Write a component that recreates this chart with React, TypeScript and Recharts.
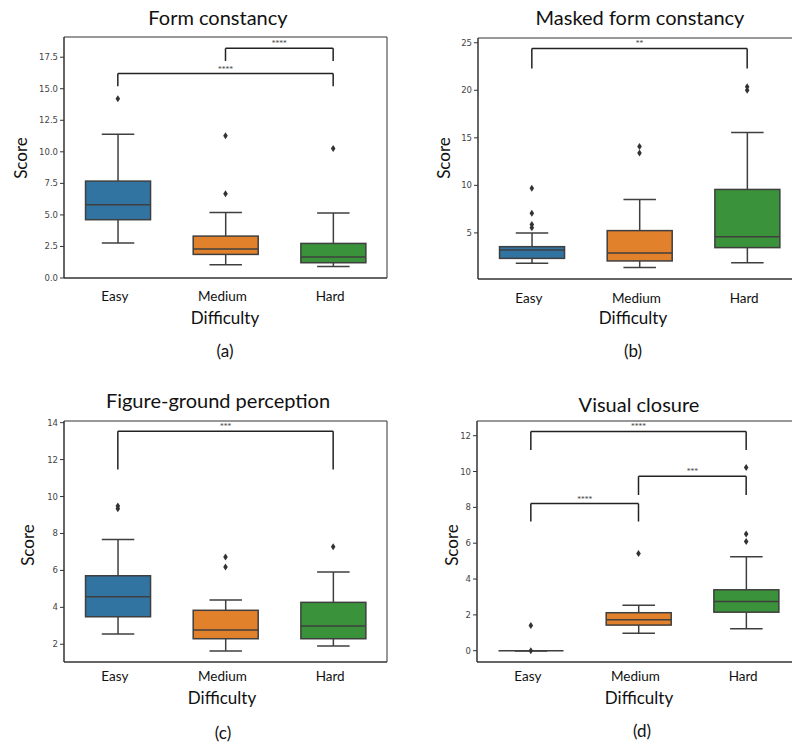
import React from 'react';
import { Bar, ComposedChart, ReferenceArea, ReferenceLine, Scatter, XAxis, YAxis } from 'recharts';

const categories = ['Easy', 'Medium', 'Hard'];

// five-number summaries per difficulty: [lower whisker, Q1, median, Q3, upper whisker]
const formBoxes = [
    [2.77, 4.62, 5.8, 7.68, 11.4],
    [1.05, 1.87, 2.3, 3.32, 5.2],
    [0.92, 1.21, 1.66, 2.74, 5.15],
];
const formOutliers = [[14.2], [11.27, 6.67], [10.26]];
const formTicks = [0, 2.5, 5, 7.5, 10, 12.5, 15, 17.5];
const formBrackets: [string, string, number, number, string][] = [
    ['Medium', 'Hard', 17.2, 18.2, '****'],
    ['Easy', 'Hard', 15.2, 16.2, '****'],
];

const maskedBoxes = [
    [1.8, 2.32, 3.2, 3.55, 5.0],
    [1.37, 2.05, 2.89, 5.24, 8.5],
    [1.87, 3.45, 4.6, 9.57, 15.55],
];
const maskedOutliers = [[9.7, 7.07, 5.88, 5.53], [14.1, 13.4], [20.36, 20.0]];
const maskedTicks = [5, 10, 15, 20, 25];
const maskedBrackets: [string, string, number, number, string][] = [['Easy', 'Hard', 22.3, 24.4, '**']];

const figureBoxes = [
    [2.56, 3.49, 4.58, 5.71, 7.68],
    [1.64, 2.3, 2.77, 3.84, 4.4],
    [1.91, 2.3, 2.99, 4.27, 5.91],
];
const figureOutliers = [[9.49, 9.34], [6.72, 6.18], [7.28]];
const figureTicks = [2, 4, 6, 8, 10, 12, 14];
const figureBrackets: [string, string, number, number, string][] = [['Easy', 'Hard', 11.47, 13.53, '***']];

const closureBoxes = [
    [0, 0, 0, 0, 0],
    [0.98, 1.43, 1.73, 2.12, 2.54],
    [1.23, 2.15, 2.75, 3.4, 5.24],
];
const closureOutliers = [[1.41, 0], [5.42], [10.22, 6.52, 6.09]];
const closureTicks = [0, 2, 4, 6, 8, 10, 12];
const closureBrackets: [string, string, number, number, string][] = [
    ['Easy', 'Hard', 11.2, 12.24, '****'],
    ['Medium', 'Hard', 8.69, 9.73, '***'],
    ['Easy', 'Medium', 7.21, 8.21, '****'],
];

const boxColors = ['#3274a1', '#e1812c', '#3a923a'];
const lineColor = '#3f3f3f';
const FONT = 'Lato, "Open Sans", sans-serif';
const PLOT_W = 323;
const PLOT_H = 241;

function BoxShape(props: any) {
    const { x, y, width, height, payload, index } = props;
    const [lo, q1, med, q3, hi] = payload.stats as number[];
    const top = Math.min(y, y + height);
    const h = Math.abs(height);
    const span = hi - lo;
    const toY = (v: number) => (span === 0 ? top : top + ((hi - v) / span) * h);
    const cx = x + width / 2;
    const capW = width / 4;
    return (
        <g stroke={lineColor} strokeWidth={1.5}>
            <line x1={cx} x2={cx} y1={toY(hi)} y2={toY(q3)} />
            <line x1={cx} x2={cx} y1={toY(q1)} y2={toY(lo)} />
            <line x1={cx - capW} x2={cx + capW} y1={toY(hi)} y2={toY(hi)} />
            <line x1={cx - capW} x2={cx + capW} y1={toY(lo)} y2={toY(lo)} />
            <rect x={x} y={toY(q3)} width={width} height={toY(q1) - toY(q3)} fill={boxColors[index]} />
            <line x1={x} x2={x + width} y1={toY(med)} y2={toY(med)} />
        </g>
    );
}

function Diamond(props: any) {
    const { cx, cy } = props;
    return <path d={`M${cx},${cy - 3.5}L${cx + 2.3},${cy}L${cx},${cy + 3.5}L${cx - 2.3},${cy}Z`} fill="#333" />;
}

function Text({ x, y, size, children, rotate }: { x: number; y: number; size: number; children: React.ReactNode; rotate?: boolean }) {
    return (
        <div
            style={{
                position: 'absolute',
                left: x,
                top: y,
                transform: `translate(-50%, -50%)${rotate ? ' rotate(-90deg)' : ''}`,
                fontSize: size,
                fontFamily: FONT,
                color: '#111',
                whiteSpace: 'nowrap',
                lineHeight: 1,
            }}
        >
            {children}
        </div>
    );
}

type PanelProps = {
    left: number;
    top: number;
    plotLeft: number;
    plotTop: number;
    boxes: number[][];
    outliers: number[][];
    ticks: number[];
    domain: [number, number];
    brackets: [string, string, number, number, string][];
    tickFormat?: (v: number) => string;
    tickGap: number;
};

function Panel({ left, top, plotLeft, plotTop, boxes, outliers, ticks, domain, brackets, tickFormat, tickGap }: PanelProps) {
    const data = categories.map((cat, i) => ({ cat, range: [boxes[i][0], boxes[i][4]], stats: boxes[i] }));
    const outlierData = categories.flatMap((cat, i) => outliers[i].map((v) => ({ cat, v })));
    const width = plotLeft + PLOT_W + 10;
    const height = plotTop + PLOT_H + 40;
    return (
        <div style={{ position: 'absolute', left, top }}>
            <ComposedChart
                width={width}
                height={height}
                data={data}
                margin={{ top: plotTop, left: plotLeft - 40, right: 10, bottom: 10 }}
                barCategoryGap="20%"
            >
                <XAxis
                    dataKey="cat"
                    type="category"
                    allowDuplicatedCategory={false}
                    axisLine={{ stroke: '#333' }}
                    tickLine={false}
                    tickSize={0}
                    tickMargin={tickGap}
                    height={30}
                    tick={{ fontSize: 13.5, fill: '#111', fontFamily: FONT, dx: -3 }}
                />
                <YAxis
                    type="number"
                    domain={domain}
                    allowDataOverflow
                    ticks={ticks}
                    width={40}
                    tickSize={4}
                    tickMargin={2}
                    tickFormatter={tickFormat}
                    axisLine={{ stroke: '#333' }}
                    tickLine={{ stroke: '#333' }}
                    tick={{ fontSize: 8.5, fill: '#444', fontFamily: 'DejaVu Sans' }}
                />
                <ReferenceArea y1={domain[0]} y2={domain[1]} fill="none" stroke="#333" strokeWidth={1} ifOverflow="visible" />
                <Bar dataKey="range" shape={<BoxShape />} isAnimationActive={false} />
                <Scatter data={outlierData} dataKey="v" shape={<Diamond />} isAnimationActive={false} />
                {brackets.flatMap(([from, to, low, high, label], i) => [
                    <ReferenceLine
                        key={`h${i}`}
                        segment={[{ x: from, y: high }, { x: to, y: high }]}
                        stroke="#222"
                        strokeWidth={1.5}
                        ifOverflow="visible"
                        label={{ value: label, position: 'top', fontSize: 7.5, fill: '#444', offset: 2 }}
                    />,
                    <ReferenceLine key={`l${i}`} segment={[{ x: from, y: low }, { x: from, y: high }]} stroke="#222" strokeWidth={1.5} ifOverflow="visible" />,
                    <ReferenceLine key={`r${i}`} segment={[{ x: to, y: low }, { x: to, y: high }]} stroke="#222" strokeWidth={1.5} ifOverflow="visible" />,
                ])}
            </ComposedChart>
        </div>
    );
}

export default function App() {
    return (
        <div style={{ position: 'fixed', left: 0, top: 0, width: 792, height: 745, overflow: 'hidden', background: '#fff' }}>
            <Panel left={0} top={0} plotLeft={64} plotTop={37} boxes={formBoxes} outliers={formOutliers} ticks={formTicks} domain={[0, 19.1]} brackets={formBrackets} tickFormat={(v) => v.toFixed(1)} tickGap={13} />
            <Panel left={396} top={0} plotLeft={82} plotTop={38} boxes={maskedBoxes} outliers={maskedOutliers} ticks={maskedTicks} domain={[0.15, 25.5]} brackets={maskedBrackets} tickGap={14} />
            <Panel left={0} top={372} plotLeft={64} plotTop={49} boxes={figureBoxes} outliers={figureOutliers} ticks={figureTicks} domain={[1.04, 14.09]} brackets={figureBrackets} tickGap={9} />
            <Panel left={396} top={372} plotLeft={81} plotTop={49} boxes={closureBoxes} outliers={closureOutliers} ticks={closureTicks} domain={[-0.63, 12.82]} brackets={closureBrackets} tickGap={9} />

            <Text x={218} y={17} size={20}>Form constancy</Text>
            <Text x={640} y={17} size={20}>Masked form constancy</Text>
            <Text x={218} y={400} size={20}>Figure-ground perception</Text>
            <Text x={639} y={404} size={20}>Visual closure</Text>

            <Text x={20} y={158} size={17} rotate>Score</Text>
            <Text x={443} y={158} size={17} rotate>Score</Text>
            <Text x={27} y={545} size={17} rotate>Score</Text>
            <Text x={451} y={545} size={17} rotate>Score</Text>

            <Text x={225} y={317} size={17}>Difficulty</Text>
            <Text x={633} y={317} size={17}>Difficulty</Text>
            <Text x={222} y={697} size={17}>Difficulty</Text>
            <Text x={639} y={697} size={17}>Difficulty</Text>

            <Text x={225} y={350} size={17}>(a)</Text>
            <Text x={633} y={350} size={17}>(b)</Text>
            <Text x={223} y={732} size={17}>(c)</Text>
            <Text x={642} y={730} size={17}>(d)</Text>
        </div>
    );
}
